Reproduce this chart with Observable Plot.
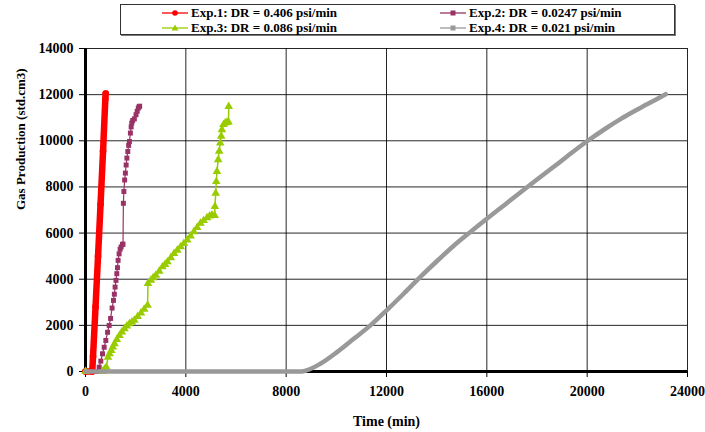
<!DOCTYPE html>
<html>
<head>
<meta charset="utf-8">
<script src="https://cdn.jsdelivr.net/npm/d3@7"></script>
<script src="https://cdn.jsdelivr.net/npm/@observablehq/plot@0.6"></script>
<style>
  body { margin: 0; background: #fff; }
  #wrap { position: relative; width: 705px; height: 432px; font-family: "Liberation Serif", "Times New Roman", serif; }
  #chart { position: absolute; left: 0; top: 0; }
  #legend { position: absolute; left: 120px; top: 4px; width: 553px; height: 29px; border: 1px solid #333; box-shadow: 1px 1px 0 #777; background: #fff; }
  .item { position: absolute; display: flex; align-items: center; height: 14px; font-weight: bold; font-size: 13px; white-space: nowrap; color: #000; }
  .item span { display: block; height: 14px; line-height: 14px; }
  .item svg { margin-right: 3px; }
</style>
</head>
<body>
<div id="wrap">
  <div id="chart"></div>
  <div id="legend"></div>
</div>
<script>
// Exp.1: DR = 0.406 psi/min
const exp1Time = [0, 270, 300, 400, 500, 600, 700, 790, 805];
const exp1Gas  = [0, 0, 650, 2800, 5000, 7250, 9550, 11800, 12050];

// Exp.2: DR = 0.0247 psi/min
const exp2Time = [0, 480, 545, 610, 678, 745, 810, 880, 943, 1000, 1060, 1115, 1150, 1180, 1215, 1248, 1275, 1300, 1340, 1380, 1420, 1473, 1495,
                  1510, 1530, 1560, 1590, 1620, 1650, 1686, 1720, 1751, 1790, 1820, 1845, 1880, 1948, 2014, 2060, 2105, 2140, 2160];
const exp2Gas  = [0, 0, 187, 450, 768, 1050, 1345, 1700, 1996, 2300, 2750, 3081, 3350, 3659, 3950, 4240, 4500, 4817, 5100, 5300, 5400, 5512, 5520,
                  7290, 7800, 8300, 8600, 8950, 9250, 9535, 9800, 9970, 10335, 10600, 10770, 10880, 10950, 11130, 11280, 11420, 11480, 11500];

// Exp.3: DR = 0.086 psi/min
const exp3Time = [0, 680, 760, 829, 896, 960, 1027, 1090, 1157, 1250, 1355, 1450, 1553, 1650, 1751, 1850, 1948, 2080, 2212, 2340, 2475,
                  2490, 2607, 2700, 2805, 2940, 3068, 3170, 3266, 3400, 3530, 3660, 3792, 3920, 4056, 4190, 4320, 4450, 4582, 4710, 4846,
                  4950, 5044, 5150, 5160, 5190, 5214, 5240, 5290, 5330, 5372, 5410, 5438, 5500, 5570, 5640, 5700, 5710];
const exp3Gas  = [0, 0, 100, 190, 622, 770, 913, 1060, 1204, 1390, 1565, 1710, 1857, 1970, 2074, 2150, 2217, 2380, 2535, 2700, 2870,
                  3813, 3957, 4060, 4174, 4350, 4535, 4640, 4752, 4930, 5117, 5260, 5404, 5550, 5696, 5870, 6057, 6240, 6422, 6540, 6665,
                  6740, 6783, 6760, 7150, 7726, 8230, 8665, 9174, 9550, 9900, 10200, 10480, 10700, 10770, 10800, 10813, 11490];

// Exp.4: DR = 0.021 psi/min
const exp4Time = [0, 8560, 8693, 9360, 10026, 10693, 11360, 12026, 12693, 13360, 14026, 14693, 15360, 16026, 16693, 17360,
                  18026, 18693, 19360, 20026, 20693, 21360, 22026, 22693, 23130];
const exp4Gas  = [0, 0, 14, 333, 839, 1417, 2000, 2675, 3380, 4110, 4800, 5460, 6060, 6640, 7210, 7780,
                  8340, 8893, 9460, 10000, 10500, 10960, 11370, 11760, 12020];

const seriesNames  = ["Exp.1: DR = 0.406 psi/min", "Exp.2: DR = 0.0247 psi/min", "Exp.3: DR = 0.086 psi/min", "Exp.4: DR = 0.021 psi/min"];
const seriesColors = ["#ff0000", "#993366", "#99cc00", "#999999"];

const xTicks = [0, 4000, 8000, 12000, 16000, 20000, 24000];
const yTicks = [0, 2000, 4000, 6000, 8000, 10000, 12000, 14000];

const toRows = (times, gas) => times.map((t, i) => ({t, g: gas[i]}));
const exp1 = toRows(exp1Time, exp1Gas);
const exp2 = toRows(exp2Time, exp2Gas);
const exp3 = toRows(exp3Time, exp3Gas);
const exp4 = toRows(exp4Time, exp4Gas);

const fmt = d3.format("d");

const chart = Plot.plot({
  width: 705,
  height: 432,
  marginTop: 48,
  marginBottom: 61,
  marginLeft: 85,
  marginRight: 18,
  style: {fontFamily: '"Liberation Serif", "Times New Roman", serif', fontSize: "14px", fontWeight: "bold", color: "#000", background: "transparent"},
  x: {domain: [0, 24000], ticks: xTicks},
  y: {domain: [0, 14000], ticks: yTicks},
  marks: [
    Plot.gridX(xTicks, {stroke: "#000", strokeOpacity: 0.85}),
    Plot.gridY(yTicks, {stroke: "#000", strokeOpacity: 0.85}),
    Plot.axisX({ticks: xTicks, tickSize: 6, tickPadding: 9, tickFormat: fmt, label: null, stroke: "#000"}),
    Plot.axisY({ticks: yTicks, tickSize: 6, tickPadding: 6, tickFormat: fmt, label: null, stroke: "#000"}),
    Plot.ruleX([0], {stroke: "#000", strokeWidth: 3}),
    Plot.ruleY([0], {stroke: "#000", strokeWidth: 3}),
    // Exp.1 — dense circles merge into a thick band
    Plot.line(exp1, {x: "t", y: "g", stroke: seriesColors[0], strokeWidth: 6.5, strokeLinecap: "round"}),
    Plot.dot(exp1, {x: "t", y: "g", r: 3.3, fill: seriesColors[0], stroke: "none"}),
    // Exp.2 — squares on a thin line
    Plot.line(exp2, {x: "t", y: "g", stroke: seriesColors[1], strokeWidth: 1.2}),
    Plot.dot(exp2, {x: "t", y: "g", symbol: "square", r: 2.8, fill: seriesColors[1], stroke: "none"}),
    // Exp.3 — triangles on a thin line
    Plot.line(exp3, {x: "t", y: "g", stroke: seriesColors[2], strokeWidth: 1.5}),
    Plot.dot(exp3, {x: "t", y: "g", symbol: "triangle", r: 3.2, fill: seriesColors[2], stroke: "none"}),
    // Exp.4 — long run, markers merge into a thick grey curve
    Plot.line(exp4, {x: "t", y: "g", stroke: seriesColors[3], strokeWidth: 4.5, curve: "monotone-x"}),
    // axis titles
    Plot.text(["Time (min)"], {frameAnchor: "bottom", dy: 50, text: d => d, fontSize: 14, fontWeight: "bold", lineAnchor: "middle"}),
    Plot.text(["Gas Production (std.cm3)"], {frameAnchor: "left", dx: -65, rotate: -90, text: d => d, fontSize: 13, fontWeight: "bold", lineAnchor: "middle"})
  ]
});
document.getElementById("chart").appendChild(chart);

// Legend: two rows, two columns, each with a short line and its marker
const legendPos = [
  {left: 162, top: 13}, {left: 440, top: 13},
  {left: 162, top: 28}, {left: 440, top: 28}
];
const symbols = ["circle", "square", "triangle", "square"];
const legend = document.getElementById("legend");
seriesNames.forEach((name, i) => {
  const item = document.createElement("div");
  item.className = "item";
  item.style.left = (legendPos[i].left - 121) + "px";
  item.style.top = (legendPos[i].top - 5 - 7) + "px";
  const c = seriesColors[i];
  let marker;
  if (symbols[i] === "circle") marker = `<circle cx="13" cy="5" r="2.8" fill="${c}"/>`;
  else if (symbols[i] === "square") marker = `<rect x="10.5" y="2.5" width="5" height="5" fill="${c}"/>`;
  else marker = `<path d="M13,1.5 L16.5,7.5 L9.5,7.5 Z" fill="${c}"/>`;
  item.innerHTML = `<svg width="26" height="10"><line x1="0" x2="26" y1="5" y2="5" stroke="${c}" stroke-width="1.3"/>${marker}</svg><span>${name}</span>`;
  legend.appendChild(item);
});
</script>
</body>
</html>
